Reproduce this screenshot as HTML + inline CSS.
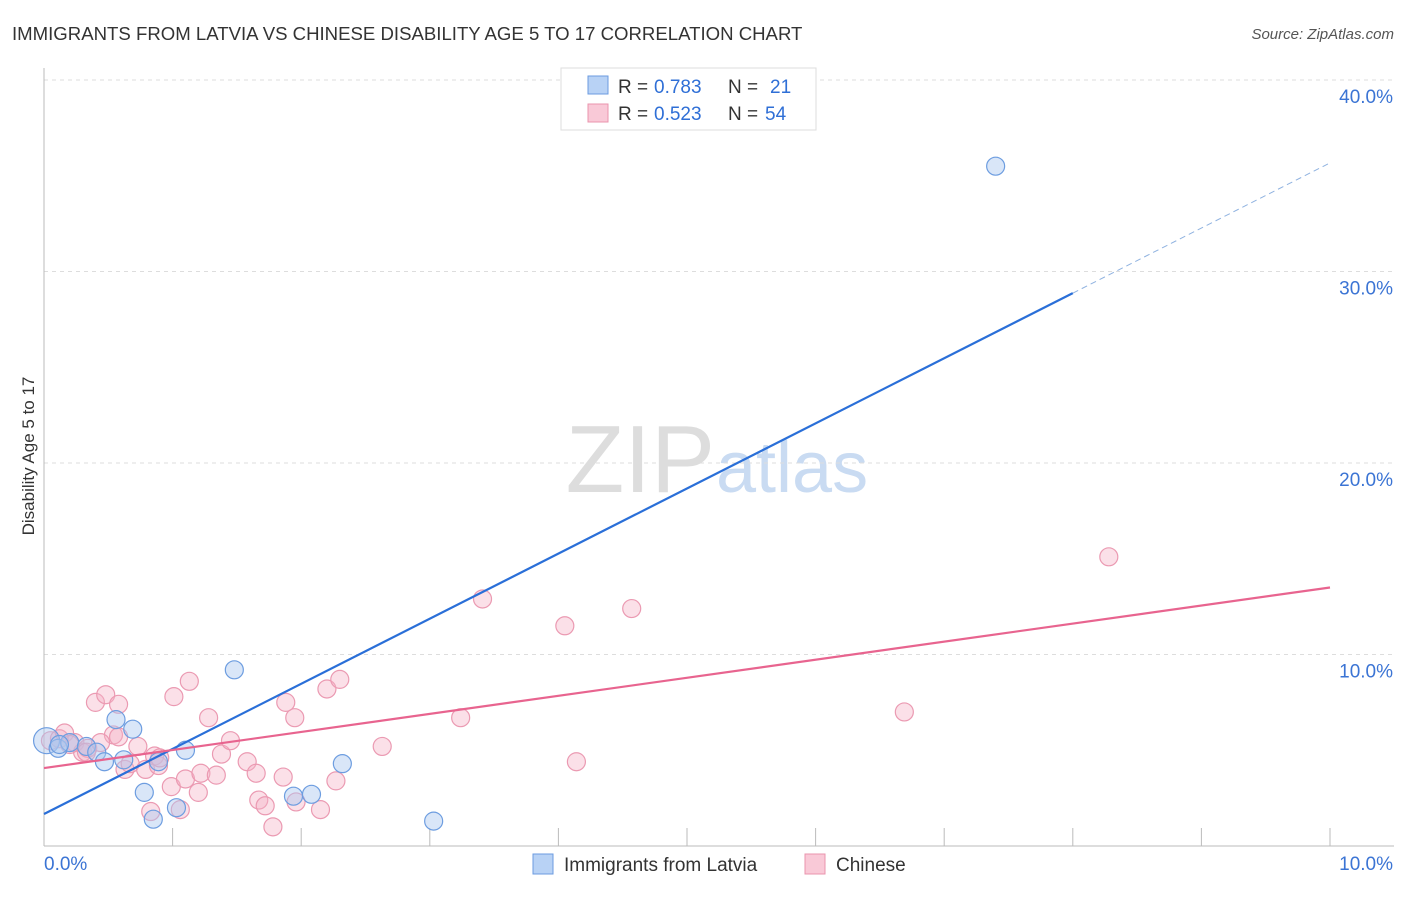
<!DOCTYPE html>
<html><head><meta charset="utf-8"><style>
body{margin:0;background:#fff;font-family:"Liberation Sans",sans-serif}
svg text{font-family:"Liberation Sans",sans-serif}
</style></head><body>
<svg id="c" width="1406" height="892">
<text x="12" y="40" font-size="18.6" fill="#333">IMMIGRANTS FROM LATVIA VS CHINESE DISABILITY AGE 5 TO 17 CORRELATION CHART</text>
<text x="1394" y="39" font-size="15" fill="#555" font-style="italic" text-anchor="end">Source: ZipAtlas.com</text>
<text x="34" y="456" font-size="17" fill="#333" transform="rotate(-90 34 456)" text-anchor="middle">Disability Age 5 to 17</text>
<text x="715" y="492" font-size="96" fill="#ddd" text-anchor="end" font-family="Liberation Serif">ZIP</text>
<text x="716" y="492" font-size="72" fill="#c9dbf2">atlas</text>
<g id="grid"></g><g id="pts"></g><g id="lines"></g>
<g font-size="19">
<rect x="561" y="68" width="255" height="62" fill="#fff" stroke="#ddd"/>
<rect x="588" y="76" width="20" height="18" fill="#b8d2f5" stroke="#6b9be0"/>
<text x="618" y="93" fill="#333">R =</text><text x="654" y="93" fill="#2f6fd6">0.783</text>
<text x="728" y="93" fill="#333">N =</text><text x="770" y="93" fill="#2f6fd6">21</text>
<rect x="588" y="104" width="20" height="18" fill="#f9c9d7" stroke="#ea94ad"/>
<text x="618" y="120" fill="#333">R =</text><text x="654" y="120" fill="#2f6fd6">0.523</text>
<text x="728" y="120" fill="#333">N =</text><text x="765" y="120" fill="#2f6fd6">54</text>
</g>
<g>
<rect x="533" y="854" width="20" height="20" fill="#b8d2f5" stroke="#6b9be0"/>
<text x="564" y="871" font-size="19" fill="#333">Immigrants from Latvia</text>
<rect x="805" y="854" width="20" height="20" fill="#f9c9d7" stroke="#ea94ad"/>
<text x="836" y="871" font-size="19" fill="#333">Chinese</text>
</g>
</svg>
<script>
const yTicks=[10,20,30,40];
const xTickLabels=["0.0%","10.0%"];
const blueX=[0.02,0.11,0.2,0.33,0.41,0.47,0.56,0.62,0.69,0.78,0.85,0.89,1.03,1.1,1.48,1.94,2.08,2.32,3.03,7.4,0.12];
const blueY=[5.5,5.1,5.4,5.2,4.9,4.4,6.6,4.5,6.1,2.8,1.4,4.4,2.0,5.0,9.2,2.6,2.7,4.3,1.3,35.5,5.3];
const pinkX=[0.05,0.12,0.16,0.24,0.3,0.34,0.4,0.48,0.54,0.58,0.63,0.67,0.73,0.79,0.83,0.86,0.89,1.01,0.99,1.06,1.1,1.13,1.2,1.22,1.28,1.34,1.38,1.45,1.58,1.65,1.67,1.72,1.78,1.86,1.88,1.95,1.96,2.15,2.2,2.27,2.3,2.63,3.24,3.41,4.05,4.14,4.57,6.69,8.28,0.33,0.58,0.44,0.9,0.2];
const pinkY=[5.5,5.6,5.9,5.4,4.9,5.1,7.5,7.9,5.8,7.4,4.0,4.3,5.2,4.0,1.8,4.7,4.2,7.8,3.1,1.9,3.5,8.6,2.8,3.8,6.7,3.7,4.8,5.5,4.4,3.8,2.4,2.1,1.0,3.6,7.5,6.7,2.3,1.9,8.2,3.4,8.7,5.2,6.7,12.9,11.5,4.4,12.4,7.0,15.1,4.9,5.7,5.4,4.6,5.3];
const blueLine=[1.67,3.4], pinkLine=[4.07,0.943];
const X=v=>44+v*128.6, Y=v=>846-v*19.15;
const NS="http://www.w3.org/2000/svg";
function mk(t,a,p){const e=document.createElementNS(NS,t);for(const k in a)e.setAttribute(k,a[k]);p.appendChild(e);return e;}
const grid=document.getElementById('grid');
yTicks.forEach(t=>{
 const l=mk('line',{x1:44,x2:1394,y1:Y(t),y2:Y(t),stroke:'#ddd','stroke-dasharray':'4,4'},grid);
 
 
 const tx=mk('text',{x:1393,y:Y(t)+23,'font-size':19,fill:'#3b74d4','text-anchor':'end'},grid);tx.textContent=t.toFixed(1)+'%';
 
 
});
mk('line',{x1:44,x2:44,y1:68,y2:846,stroke:'#bbb'},grid);
mk('line',{x1:44,x2:1394,y1:846,y2:846,stroke:'#bbb'},grid);
for(let i=1;i<=10;i++){mk('line',{x1:X(i),x2:X(i),y1:828,y2:846,stroke:'#bbb'},grid);}
xTickLabels.forEach((s,i)=>{const t=mk('text',{x:i?1393:44,y:870,'font-size':19,fill:'#3b74d4','text-anchor':i?'end':'start'},grid);t.textContent=s;
 
 });
const pts=document.getElementById('pts');
pinkX.forEach((x,i)=>{const c=mk('circle',{cx:X(x),cy:Y(pinkY[i]),r:9,fill:'rgba(246,178,198,0.4)',stroke:'#eb9ab2','stroke-width':1.2},pts);
 
 });
blueX.forEach((x,i)=>{const c=mk('circle',{cx:X(x),cy:Y(blueY[i]),r:i==0?13:9,fill:'rgba(170,200,240,0.45)',stroke:'#6d9de0','stroke-width':1.2},pts);
 
 });
const ln=document.getElementById('lines');
let e=mk('line',{x1:X(0),y1:Y(blueLine[0]),x2:X(8),y2:Y(blueLine[0]+8*blueLine[1]),stroke:'#2a6fd8','stroke-width':2.2},ln);


e=mk('line',{x1:X(8),y1:Y(blueLine[0]+8*blueLine[1]),x2:X(10),y2:Y(blueLine[0]+10*blueLine[1]),stroke:'#8fb2e0','stroke-width':1,'stroke-dasharray':'6,4'},ln);


e=mk('line',{x1:X(0),y1:Y(pinkLine[0]),x2:X(10),y2:Y(pinkLine[0]+10*pinkLine[1]),stroke:'#e8648f','stroke-width':2.2},ln);


</script>
</body></html>
